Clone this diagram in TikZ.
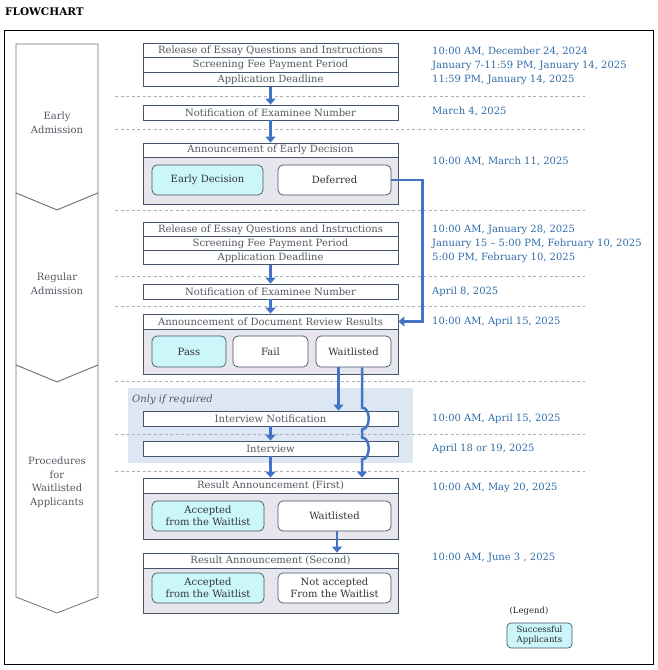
\documentclass[tikz,border=0pt]{standalone}
\usepackage{fontspec}
\setmainfont{DejaVu Serif}
\usepackage{tikz}
\usetikzlibrary{arrows.meta,calc}
\definecolor{chartline}{RGB}{68,84,106}
\definecolor{charttext}{RGB}{84,88,98}
\definecolor{chartgray}{RGB}{230,230,236}
\definecolor{chartcyan}{RGB}{204,247,250}
\definecolor{chartblue}{RGB}{68,114,196}
\definecolor{chartdate}{RGB}{48,108,168}
\definecolor{chartshade}{RGB}{221,231,243}
\definecolor{chartdash}{RGB}{175,175,180}

\begin{document}
\begin{tikzpicture}[x=1pt, y=-1pt,
  row/.style={draw=chartline, fill=white, line width=0.8pt, minimum width=255pt, minimum height=14.5pt, inner sep=0pt, text=charttext, font=\fontsize{10}{12}\selectfont},
  panel/.style={draw=chartline, fill=chartgray, line width=0.8pt, minimum width=255pt, inner sep=0pt},
  choice/.style={draw=chartline, fill=white, line width=0.7pt, rounded corners=5pt, minimum height=30pt, inner sep=0pt, align=center, text=black!80, font=\fontsize{10}{11.5}\selectfont},
  success/.style={choice, fill=chartcyan},
  date/.style={anchor=west, inner sep=0pt, text=chartdate, font=\fontsize{10}{12}\selectfont},
  phase/.style={align=center, text=charttext, font=\fontsize{10}{13.5}\selectfont},
  sep/.style={chartdash, dash pattern=on 3pt off 2.5pt, line width=0.7pt},
  flow/.style={chartblue, line width=2.5pt, -{Triangle[width=10pt,length=6pt]}},
  chevron/.style={draw=black!55, fill=white, line width=0.8pt}]
  \useasboundingbox (0,0) rectangle (658,670);
  \node[anchor=west, inner sep=0pt, font=\fontsize{10.5}{12}\selectfont\bfseries] (title) at (5,12) {FLOWCHART};
  \draw[line width=1pt] (4,30) rectangle (653,664);

  \draw[chevron] (16,44) -- (98,44) -- (98,193) -- (57,210) -- (16,193) -- cycle;
  \draw[chevron] (16,193) -- (57,210) -- (98,193) -- (98,365) -- (57,382) -- (16,365) -- cycle;
  \draw[chevron] (16,365) -- (57,382) -- (98,365) -- (98,597) -- (57,613) -- (16,597) -- cycle;
  \node[phase] (stage1) at (57,123) {Early\\Admission};
  \node[phase] (stage2) at (57,284) {Regular\\Admission};
  \node[phase] (stage3) at (57,482) {Procedures\\for\\Waitlisted\\Applicants};

  \fill[chartshade] (128,388) rectangle (413,463);
  \foreach \y in {96,129,210,276,306,381,434,471}
    \draw[sep] (115,\y) -- (585,\y);
  \node[anchor=west, inner sep=0pt, text=charttext, font=\fontsize{10}{12}\selectfont\itshape] (optional) at (132,400) {Only if required};

  \node[row] (early1) at (270.5,50.5) {Release of Essay Questions and Instructions};
  \node[row] (early2) at (270.5,65) {Screening Fee Payment Period};
  \node[row] (early3) at (270.5,79.5) {Application Deadline};
  \node[row, minimum height=15pt] (early4) at (270.5,112.5) {Notification of Examinee Number};
  \node[panel, minimum height=47pt] (early6) at (270.5,180.5) {};
  \node[row, minimum height=14pt] (early5) at (270.5,150) {Announcement of Early Decision};
  \node[success, minimum width=111pt] (edecision) at (207.5,180) {Early Decision};
  \node[choice, minimum width=113pt] (deferred) at (334.5,180) {Deferred};

  \node[row, minimum height=14pt] (regular1) at (270.5,229.5) {Release of Essay Questions and Instructions};
  \node[row, minimum height=14pt] (regular2) at (270.5,243.5) {Screening Fee Payment Period};
  \node[row, minimum height=14pt] (regular3) at (270.5,257.5) {Application Deadline};
  \node[row, minimum height=15pt] (regular4) at (270.5,291.5) {Notification of Examinee Number};
  \node[panel, minimum height=45pt] (regular6) at (270.5,351.5) {};
  \node[row, minimum height=15pt] (regular5) at (270.5,321.5) {Announcement of Document Review Results};
  \node[success, minimum width=74pt, minimum height=31pt] (pass) at (189,351.5) {Pass};
  \node[choice, minimum width=75pt, minimum height=31pt] (fail) at (270.5,351.5) {Fail};
  \node[choice, minimum width=75pt, minimum height=31pt] (waitlisted) at (353.5,351.5) {Waitlisted};

  \node[row, minimum height=15pt] (interview1) at (270.5,418.5) {Interview Notification};
  \node[row, minimum height=15pt] (interview2) at (270.5,448.5) {Interview};
  \node[panel, minimum height=46pt] (wait2) at (270.5,516) {};
  \node[row, minimum height=15pt] (wait1) at (270.5,485.5) {Result Announcement (First)};
  \node[success, minimum width=112pt] (accepted1) at (208,516) {Accepted\\from the Waitlist};
  \node[choice, minimum width=113pt] (waitlisted2) at (334.5,516) {Waitlisted};
  \node[panel, minimum height=45pt] (wait4) at (270.5,590.5) {};
  \node[row, minimum height=15pt] (wait3) at (270.5,560.5) {Result Announcement (Second)};
  \node[success, minimum width=112pt] (accepted2) at (208,588) {Accepted\\from the Waitlist};
  \node[choice, minimum width=113pt] (rejected) at (334.5,588) {Not accepted\\From the Waitlist};

  \node[date] (date1) at (432,51) {10:00 AM, December 24, 2024};
  \node[date] (date2) at (432,65.5) {January 7-11:59 PM, January 14, 2025};
  \node[date] (date3) at (432,80) {11:59 PM, January 14, 2025};
  \node[date] (date4) at (432,111.5) {March 4, 2025};
  \node[date] (date5) at (432,161.5) {10:00 AM, March 11, 2025};
  \node[date] (date6) at (432,230) {10:00 AM, January 28, 2025};
  \node[date] (date7) at (432,244) {January 15 – 5:00 PM, February 10, 2025};
  \node[date] (date8) at (432,258) {5:00 PM, February 10, 2025};
  \node[date] (date9) at (432,291.5) {April 8, 2025};
  \node[date] (date10) at (432,322) {10:00 AM, April 15, 2025};
  \node[date] (date11) at (432,419) {10:00 AM, April 15, 2025};
  \node[date] (date12) at (432,449) {April 18 or 19, 2025};
  \node[date] (date13) at (432,488) {10:00 AM, May 20, 2025};
  \node[date] (date14) at (432,558) {10:00 AM, June 3 , 2025};

  \node[text=black!85, font=\fontsize{8.5}{10}\selectfont] (legend) at (529,611) {(Legend)};
  \node[success, minimum width=65pt, minimum height=25pt, rounded corners=4pt, text=black!85, font=\fontsize{8.5}{10}\selectfont] (legendbox) at (539.5,635.5) {Successful\\Applicants};

  \draw[flow] (early3.south) -- (early4.north);
  \draw[flow] (early4.south) -- (early5.north);
  \draw[flow] (deferred.east) -- ++(31,0) |- (regular5.east);
  \draw[flow] (regular3.south) -- (regular4.north);
  \draw[flow] (regular4.south) -- (regular5.north);
  \coordinate (wlleft) at ($(waitlisted.south)+(-15,0)$);
  \coordinate (wlright) at ($(waitlisted.south)+(8.5,0)$);
  \draw[flow] (wlleft) -- (wlleft |- interview1.north);
  \draw[flow] (wlright) -- ($(wlright |- interview1.north)+(0,-3)$)
    .. controls +(9,0) and +(9,0) .. ($(wlright |- interview1.south)+(0,3)$)
    -- ($(wlright |- interview2.north)+(0,-3)$)
    .. controls +(9,0) and +(9,0) .. ($(wlright |- interview2.south)+(0,3)$)
    -- (wlright |- wait1.north);
  \draw[flow] (interview1.south) -- (interview2.north);
  \draw[flow] (interview2.south) -- (wait1.north);
  \draw[flow] ([xshift=2.5pt]waitlisted2.south) -- ([xshift=2.5pt]waitlisted2.south |- wait3.north);
\end{tikzpicture}
\end{document}
